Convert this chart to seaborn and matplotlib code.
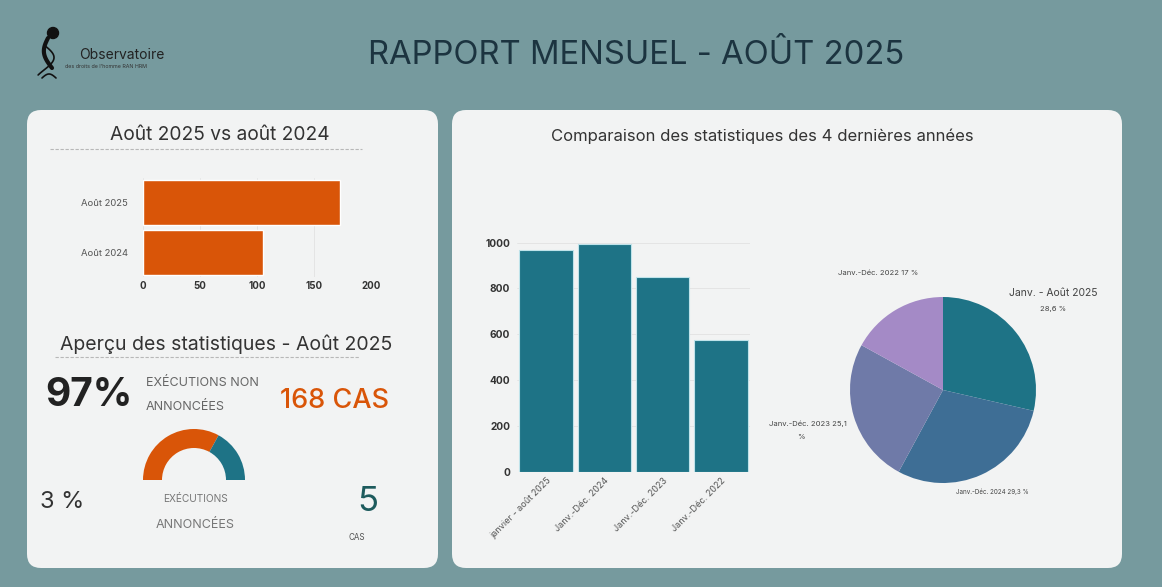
import numpy as np
import pandas as pd
import matplotlib
matplotlib.use('Agg')
import matplotlib.pyplot as plt
import seaborn as sns
from matplotlib.patches import FancyBboxPatch, Circle

# Data
aout_labels = ["Août 2025", "Août 2024"]
aout_values = [173, 105]

gauge_values = [66, 34]   # orange / bleu sur la jauge

periodes = ["janvier - août 2025", "Janv.-Déc. 2024", "Janv.-Déc. 2023", "Janv.-Déc. 2022"]
totaux = [970, 993, 851, 577]

pie_labels = ["Janv. - Août 2025", "Janv.-Déc. 2024", "Janv.-Déc. 2023", "Janv.-Déc. 2022"]
pie_pcts = [28.6, 29.3, 25.1, 17.0]

# Colours
BG = '#769a9e'
PANEL = '#f2f3f3'
ORANGE = '#d95508'
TEAL = '#1e7386'
PIE_COLORS = ['#1e7386', '#3e6e95', '#6f7aa8', '#a48ac6']

sns.set_style('white')
plt.rcParams['font.family'] = ['Inter', 'DejaVu Sans']

W, H = 1162, 587
fig = plt.figure(figsize=(W / 100, H / 100), dpi=100)
fig.patch.set_facecolor(BG)

# background axes in pixel coords
bg = fig.add_axes([0, 0, 1, 1])
bg.set_xlim(0, W)
bg.set_ylim(H, 0)
bg.axis('off')


def px_axes(x0, y0, x1, y1):
    a = fig.add_axes([x0 / W, 1 - y1 / H, (x1 - x0) / W, (y1 - y0) / H])
    a.set_facecolor('none')
    return a


def fmt_pct(v):
    s = f"{v:.1f}".replace('.', ',')
    return s[:-2] if s.endswith(',0') else s


# panels
bg.add_patch(FancyBboxPatch((27, 110), 411, 458, boxstyle="round,pad=0,rounding_size=14",
                            fc=PANEL, ec='none'))
bg.add_patch(FancyBboxPatch((452, 110), 670, 458, boxstyle="round,pad=0,rounding_size=14",
                            fc=PANEL, ec='none'))

# header
bg.text(636, 56, "RAPPORT MENSUEL - AOÛT 2025", ha='center', va='center',
        fontsize=23.6, color='#1c3440')

# logo
bg.add_patch(Circle((53, 33), 5.5, color='#111'))
t = np.linspace(0, 1, 60)
bg.plot(48 - 6 * np.sin(t * np.pi) + 4 * t, 38 + 30 * t, color='#111', lw=3)
bg.plot(44 + 10 * np.sin(t * np.pi * 1.2), 45 + 30 * t, color='#111', lw=1.2)
bg.plot(42 + 14 * t, 78 - 4 * np.sin(t * np.pi), color='#111', lw=1.2)
bg.text(79, 55, "Observatoire", ha='left', va='center', fontsize=10, color='#222')
bg.text(65, 66, "des droits de l'homme RAN HRM", ha='left', va='center', fontsize=3.8, color='#333')

# left panel titles
bg.text(220, 135, "Août 2025 vs août 2024", ha='center', va='center', fontsize=13.8, color='#333')
bg.plot([50, 362], [149, 149], ls=(0, (3, 1.5)), color='#b8b8b8', lw=0.8)
bg.text(226, 344, "Aperçu des statistiques - Août 2025", ha='center', va='center',
        fontsize=14, color='#333')
bg.plot([55, 360], [357, 357], ls=(0, (3, 1.5)), color='#b8b8b8', lw=0.8)

# horizontal bars
ax1 = px_axes(143, 178, 371, 277)
df_aout = pd.DataFrame({'periode': aout_labels, 'cas': aout_values})
sns.barplot(data=df_aout, y='periode', x='cas', color=ORANGE, width=0.9,
            orient='h', ax=ax1, saturation=1)
ax1.set_xlim(0, 200)
ax1.set_xticks([0, 50, 100, 150, 200])
ax1.set(xlabel='', ylabel='')
ax1.grid(axis='x', color='#e2e2e2', lw=0.6)
ax1.set_axisbelow(True)
sns.despine(ax=ax1, left=True, bottom=True)
ax1.tick_params(axis='y', length=0, pad=11, labelsize=6.8, labelcolor='#555')
ax1.tick_params(axis='x', length=0, pad=3, labelsize=7, labelcolor='#333')
for lab in ax1.get_xticklabels():
    lab.set_fontweight('bold')

# stats
bg.text(45, 396, "97%", ha='left', va='center', fontsize=28, fontweight='bold', color='#222')
bg.text(146, 383, "EXÉCUTIONS NON", ha='left', va='center', fontsize=9, color='#666')
bg.text(146, 407, "ANNONCÉES", ha='left', va='center', fontsize=9, color='#666')
bg.text(280, 401, "168 CAS", ha='left', va='center', fontsize=19.5, fontweight='medium',
        color=ORANGE)
bg.text(40, 502, "3 %", ha='left', va='center', fontsize=17, color='#333')
bg.text(195, 499, "EXÉCUTIONS", ha='center', va='center', fontsize=7.3, color='#777')
bg.text(195, 525, "ANNONCÉES", ha='center', va='center', fontsize=9, color='#777')
bg.text(368, 502, "5", ha='center', va='center', fontsize=25, color='#1d5b5d')
bg.text(357, 537, "CAS", ha='center', va='center', fontsize=5.8, color='#555')

# gauge
axg = px_axes(194 - 55, 480 - 55, 194 + 55, 480 + 55)
axg.pie(gauge_values + [sum(gauge_values)], colors=[ORANGE, TEAL, 'none'], radius=51,
        startangle=180, counterclock=False, wedgeprops=dict(width=19, linewidth=0))
axg.set_xlim(-55, 55)
axg.set_ylim(-55, 55)
axg.set_aspect('equal')
axg.axis('off')

# right panel
bg.text(762, 136, "Comparaison des statistiques des 4 dernières années", ha='center',
        va='center', fontsize=12, color='#333')

ax2 = px_axes(517, 242.7, 750, 471.7)
df_tot = pd.DataFrame({'periode': periodes, 'total': totaux})
sns.barplot(data=df_tot, x='periode', y='total', color=TEAL, width=0.92, saturation=1,
            edgecolor='#bfe3ea', linewidth=0.8, ax=ax2)
ax2.set_ylim(0, 1000)
ax2.set_yticks(range(0, 1001, 200))
ax2.set(xlabel='', ylabel='')
ax2.grid(axis='y', color='#e2e2e2', lw=0.6)
ax2.set_axisbelow(True)
sns.despine(ax=ax2, left=True, bottom=True)
ax2.tick_params(axis='y', length=0, pad=5, labelsize=7.3, labelcolor='#333')
ax2.tick_params(axis='x', length=0, pad=3, labelsize=6.5, labelcolor='#555')
for lab in ax2.get_yticklabels():
    lab.set_fontweight('bold')
plt.setp(ax2.get_xticklabels(), rotation=45, ha='right', rotation_mode='anchor')

# pie
axp = px_axes(943 - 100, 390 - 100, 943 + 100, 390 + 100)
axp.pie(pie_pcts, colors=PIE_COLORS, radius=93, startangle=90, counterclock=False,
        wedgeprops=dict(linewidth=0))
axp.set_xlim(-100, 100)
axp.set_ylim(-100, 100)
axp.set_aspect('equal')
axp.axis('off')

bg.text(1053, 293, pie_labels[0], ha='center', va='center', fontsize=7.5, color='#444')
bg.text(1053, 309, fmt_pct(pie_pcts[0]) + " %", ha='center', va='center', fontsize=5.5, color='#444')
bg.text(992, 492, f"{pie_labels[1]} {fmt_pct(pie_pcts[1])} %", ha='center', va='center',
        fontsize=4.5, color='#444')
bg.text(847, 424, f"{pie_labels[2]} {fmt_pct(pie_pcts[2])}", ha='right', va='center',
        fontsize=5.5, color='#444')
bg.text(801, 437, "%", ha='center', va='center', fontsize=5.5, color='#444')
bg.text(878, 273, f"{pie_labels[3]} {fmt_pct(pie_pcts[3])} %", ha='center', va='center',
        fontsize=5.5, color='#444')

fig.savefig('out.png', dpi=100, facecolor=fig.get_facecolor())
